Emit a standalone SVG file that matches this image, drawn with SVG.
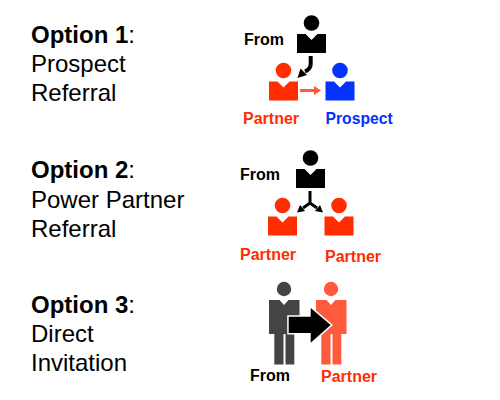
<svg xmlns="http://www.w3.org/2000/svg" width="500" height="400" viewBox="0 0 500 400">
<style>
text{font-family:"Liberation Sans",Arial,sans-serif}
.t{font-size:24px;fill:#000}
.b{font-weight:bold}
.l{font-size:16px;font-weight:bold}
.k{fill:#000}.r{fill:#ff2d00}.u{fill:#0433ff}.d{fill:#444}.o{fill:#ff5a3c}
</style>
<defs>
<g id="bust"><circle cx="14.5" cy="-11" r="7.8"/><path d="M0 0H8.500L14.500 6L20.500 0H29V19H0Z"/></g>
<g id="man"><circle cx="15" cy="-11" r="7.200"/><path d="M0 0H10.500L15 5L19.500 0H30.500V34H25.300V64.500H16.500V34H14.500V64.500H5.300V34H0Z"/></g>
</defs>
<g id="option1-title"><text class="t" x="31" y="43"><tspan class="b">Option 1</tspan>:</text><text class="t" x="31" y="72">Prospect</text><text class="t" x="31" y="101">Referral</text></g>
<g id="option2-title"><text class="t" x="31" y="178"><tspan class="b">Option 2</tspan>:</text><text class="t" x="31" y="208">Power Partner</text><text class="t" x="31" y="237">Referral</text></g>
<g id="option3-title"><text class="t" x="31" y="313"><tspan class="b">Option 3</tspan>:</text><text class="t" x="31" y="342">Direct</text><text class="t" x="31" y="371">Invitation</text></g>
<g id="n1-from"><use href="#bust" x="297" y="34" class="k"/><text class="l" x="244" y="45">From</text></g>
<g id="n1-partner"><use href="#bust" x="269" y="81.500" class="r"/><text class="l r" x="243" y="124">Partner</text></g>
<g id="n1-prospect"><use href="#bust" x="325.500" y="81.500" class="u"/><text class="l u" x="325.500" y="124" style="font-size:15.700px">Prospect</text></g>
<g id="n2-from"><use href="#bust" x="296" y="169" class="k"/><text class="l" x="240" y="180">From</text></g>
<g id="n2-partner-a"><use href="#bust" x="268" y="216.500" class="r"/><text class="l r" x="240" y="260">Partner</text></g>
<g id="n2-partner-b"><use href="#bust" x="324.500" y="216.500" class="r"/><text class="l r" x="325" y="262">Partner</text></g>
<g id="n3-from"><use href="#man" x="269" y="300" class="d"/><text class="l" x="250" y="381">From</text></g>
<g id="n3-partner"><use href="#man" x="316" y="300" class="o"/><text class="l r" x="321" y="382">Partner</text></g>
<g id="connectors">
<path d="M310.700 56V64Q310.700 69 305 71.500" fill="none" stroke="#000" stroke-width="4"/><path d="M297.500 78L300.500 68.500L307 75Z" fill="#000"/>
<path d="M300 90.500H315" fill="none" stroke="#ff5a3c" stroke-width="3"/><path d="M321 90.500L314 86V95Z" fill="#ff5a3c"/>
<path d="M310 191V203M310 203L303 208M310 203L317 208" fill="none" stroke="#000" stroke-width="3"/><path d="M297 212.500L300 205L305 211Z M323 212.500L320 205L315 211Z" fill="#000"/>
<path d="M288.700 316.700H310.700V308L330.700 325L310.700 342.700V333H288.700Z" fill="#000" stroke="#fff" stroke-width="3" paint-order="stroke"/>
</g>
</svg>
